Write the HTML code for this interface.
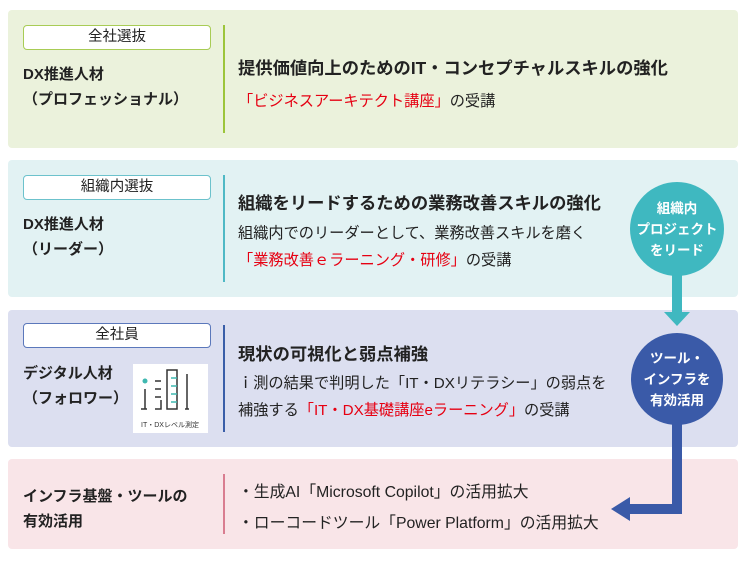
<!DOCTYPE html>
<html><head><meta charset="utf-8"><style>
*{margin:0;padding:0;box-sizing:border-box}
body{width:750px;height:562px;background:#fff;position:relative;overflow:hidden;font-family:"Liberation Sans","Noto Sans CJK JP",sans-serif;color:#222}
.p{position:absolute;left:8px;width:730px;border-radius:4px}
.lb{position:absolute;left:23px;width:188px;height:25px;background:#fff;border:1.5px solid;border-radius:4px;text-align:center;font-size:14.5px;line-height:22px}
.dv{position:absolute;left:223px;width:2px}
.t{position:absolute;white-space:nowrap}
.n{font-size:15px;font-weight:bold;line-height:25px;left:23px}
.h{font-size:17.3px;font-weight:bold;left:238px}
.s{font-size:15.2px;left:238px}
.r{color:#e60012}
.c{position:absolute;border-radius:50%;color:#fff;font-weight:bold;font-size:13.5px;text-align:center;display:flex;align-items:center;justify-content:center;line-height:21px}
</style></head><body>
<div class="p" style="top:10px;height:138px;background:#ebf2dc"></div>
<div class="p" style="top:160px;height:137px;background:#e2f2f3"></div>
<div class="p" style="top:310px;height:137px;background:#dcdff0"></div>
<div class="p" style="top:459px;height:90px;background:#f9e5e8"></div>

<div class="lb" style="top:25px;border-color:#a8cc55">全社選抜</div>
<div class="lb" style="top:175px;border-color:#6cc2cc">組織内選抜</div>
<div class="lb" style="top:323px;border-color:#5b78bb">全社員</div>

<div class="dv" style="top:25px;height:108px;background:#9cc53b"></div>
<div class="dv" style="top:175px;height:107px;background:#4fb9c5"></div>
<div class="dv" style="top:325px;height:107px;background:#3a5ea8"></div>
<div class="dv" style="top:474px;height:60px;background:#d97d90"></div>

<div class="t n" style="top:62px">DX推進人材<br>（プロフェッショナル）</div>
<div class="t h" style="top:54px">提供価値向上のためのIT・コンセプチャルスキルの強化</div>
<div class="t s" style="top:89px"><span class="r">「ビジネスアーキテクト講座」</span>の受講</div>

<div class="t n" style="top:212px">DX推進人材<br>（リーダー）</div>
<div class="t h" style="top:189px">組織をリードするための業務改善スキルの強化</div>
<div class="t s" style="top:221px">組織内でのリーダーとして、業務改善スキルを磨く</div>
<div class="t s" style="top:248px"><span class="r">「業務改善ｅラーニング・研修」</span>の受講</div>

<div class="t n" style="top:361px">デジタル人材<br>（フォロワー）</div>
<div style="position:absolute;left:133px;top:364px;width:75px;height:69px;background:#fff"></div>
<svg style="position:absolute;left:133px;top:364px" width="75" height="69">
<circle cx="12" cy="17" r="2.5" fill="#3fb8b0"/>
<path d="M12 25V45M8 45H14M22 17H28M22 25H28M22 33H28M22 45H28V36M34 6H44V45H34ZM54 10V45M52 45H56" stroke="#333" stroke-width="1.5" fill="none"/>
<path d="M38 14H44M38 22H44M38 30H44M38 38H44" stroke="#3fb8b0" stroke-width="1.5"/>
<text x="37" y="63" font-size="7" text-anchor="middle" fill="#333" font-family="Liberation Sans,Noto Sans CJK JP,sans-serif">IT・DXレベル測定</text>
</svg>
<div class="t h" style="top:340px">現状の可視化と弱点補強</div>
<div class="t s" style="top:371px">ｉ測の結果で判明した「IT・DXリテラシー」の弱点を</div>
<div class="t s" style="top:398px">補強する<span class="r">「IT・DX基礎講座eラーニング」</span>の受講</div>

<div class="t n" style="top:484px">インフラ基盤・ツールの<br>有効活用</div>
<div class="t s" style="top:479px;left:238px;font-size:15.8px">・生成AI「Microsoft Copilot」の活用拡大</div>
<div class="t s" style="top:510px;left:238px;font-size:15.8px">・ローコードツール「Power Platform」の活用拡大</div>

<svg style="position:absolute;left:0;top:0" width="750" height="562">
<rect x="672" y="270" width="10" height="44" fill="#3fb8c0"/>
<polygon points="664,312 690,312 677,326" fill="#3fb8c0"/>
<path d="M677 420V509H628" stroke="#3a5aa8" stroke-width="10" fill="none"/>
<polygon points="611,509 630,497 630,521" fill="#3a5aa8"/>
</svg>
<div class="c" style="left:630px;top:182px;width:94px;height:94px;background:#3fb8c0">組織内<br>プロジェクト<br>をリード</div>
<div class="c" style="left:631px;top:333px;width:92px;height:92px;background:#3a5aa8">ツール・<br>インフラを<br>有効活用</div>
</body></html>
